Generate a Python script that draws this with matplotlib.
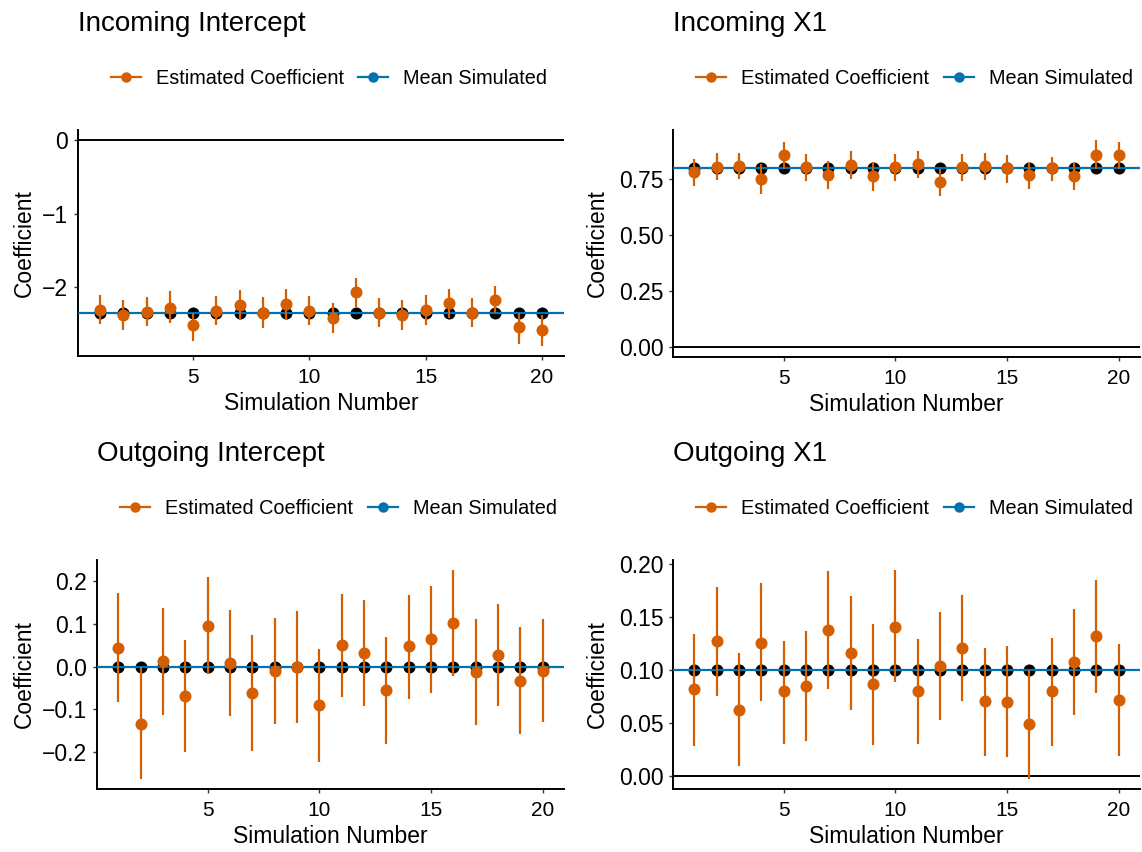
import matplotlib
matplotlib.use("Agg")
import matplotlib.pyplot as plt
from matplotlib.lines import Line2D
import numpy as np

plt.rcParams['font.family'] = ['Liberation Sans', 'DejaVu Sans']

ORANGE = '#D55E00'
BLUE = '#0072B2'

sims = np.arange(1, 21)

# Incoming Intercept
in_int_est = [-2.31, -2.38, -2.34, -2.28, -2.52, -2.32, -2.24, -2.35, -2.23, -2.32,
              -2.42, -2.07, -2.35, -2.38, -2.31, -2.22, -2.35, -2.18, -2.55, -2.58]
in_int_hi = [-2.11, -2.18, -2.14, -2.06, -2.35, -2.12, -2.04, -2.14, -2.03, -2.12,
             -2.22, -1.88, -2.15, -2.18, -2.11, -2.03, -2.15, -1.98, -2.36, -2.38]
in_int_lo = [-2.51, -2.59, -2.53, -2.49, -2.73, -2.52, -2.45, -2.56, -2.45, -2.52,
             -2.62, -2.27, -2.54, -2.59, -2.52, -2.42, -2.54, -2.35, -2.77, -2.80]
in_int_mean = -2.35

# Incoming X1
in_x1_est = [0.780, 0.804, 0.807, 0.751, 0.855, 0.802, 0.766, 0.811, 0.762, 0.802,
             0.817, 0.735, 0.802, 0.807, 0.800, 0.766, 0.800, 0.762, 0.855, 0.855]
in_x1_hi = [0.837, 0.864, 0.864, 0.814, 0.915, 0.859, 0.829, 0.874, 0.825, 0.859,
            0.874, 0.795, 0.859, 0.867, 0.856, 0.825, 0.847, 0.822, 0.922, 0.916]
in_x1_lo = [0.717, 0.744, 0.747, 0.684, 0.795, 0.739, 0.705, 0.747, 0.697, 0.739,
            0.754, 0.675, 0.742, 0.744, 0.732, 0.706, 0.739, 0.699, 0.795, 0.795]
in_x1_mean = 0.80

# Outgoing Intercept
out_int_est = [0.044, -0.135, 0.014, -0.068, 0.095, 0.008, -0.061, -0.010, 0.000, -0.091,
               0.050, 0.032, -0.056, 0.048, 0.066, 0.103, -0.012, 0.028, -0.033, -0.010]
out_int_hi = [0.172, 0.000, 0.138, 0.063, 0.210, 0.132, 0.075, 0.115, 0.131, 0.041,
              0.170, 0.156, 0.070, 0.168, 0.190, 0.226, 0.113, 0.148, 0.093, 0.111]
out_int_lo = [-0.083, -0.263, -0.113, -0.200, -0.018, -0.117, -0.198, -0.135, -0.132, -0.224,
              -0.071, -0.093, -0.181, -0.075, -0.061, -0.021, -0.137, -0.093, -0.158, -0.131]
out_int_mean = 0.0

# Outgoing X1
out_x1_est = [0.082, 0.128, 0.063, 0.126, 0.080, 0.085, 0.138, 0.116, 0.087, 0.141,
              0.080, 0.104, 0.121, 0.071, 0.070, 0.049, 0.080, 0.108, 0.132, 0.072]
out_x1_hi = [0.134, 0.178, 0.116, 0.182, 0.128, 0.137, 0.193, 0.170, 0.144, 0.194,
             0.129, 0.155, 0.171, 0.121, 0.123, 0.100, 0.130, 0.158, 0.185, 0.125]
out_x1_lo = [0.029, 0.076, 0.010, 0.071, 0.031, 0.033, 0.082, 0.063, 0.030, 0.089,
             0.031, 0.053, 0.071, 0.019, 0.018, -0.002, 0.029, 0.058, 0.079, 0.019]
out_x1_mean = 0.10

W, H = 1142, 852


def px_axes(fig, left, top, right, bottom):
    return fig.add_axes([left / W, 1 - bottom / H, (right - left) / W, (bottom - top) / H])


def panel(ax, est, lo, hi, mean, yticks, fmt):
    ax.axhline(0, color='black', lw=1.4, zorder=1)
    ax.scatter(sims, np.full(len(sims), mean), s=75, color='black', zorder=2, linewidths=0)
    ax.axhline(mean, color=BLUE, lw=1.6, zorder=3)
    ax.vlines(sims, lo, hi, color=ORANGE, lw=1.6, zorder=4)
    ax.scatter(sims, est, s=75, color=ORANGE, zorder=5, linewidths=0)

    ymin = min(min(lo), 0, mean)
    ymax = max(max(hi), 0, mean)
    pad = (ymax - ymin) * 0.05
    ax.set_ylim(ymin - pad, ymax + pad)
    ax.set_xlim(0.05, 20.95)
    ax.set_xticks([5, 10, 15, 20])
    ax.set_yticks(yticks)
    ax.set_yticklabels([fmt.format(v).replace('-', '\u2212') for v in yticks])

    for s in ['top', 'right']:
        ax.spines[s].set_visible(False)
    for s in ['left', 'bottom']:
        ax.spines[s].set_linewidth(1.4)
    ax.tick_params(length=3, width=1, color='#333333', pad=4)
    ax.tick_params(axis='x', labelsize=15, pad=5.5)
    ax.tick_params(axis='y', labelsize=16.5)
    ax.set_xlabel('Simulation Number', fontsize=16.5, labelpad=3.5)
    ax.set_ylabel('Coefficient', fontsize=16.5)


fig = plt.figure(figsize=(W / 100, H / 100), dpi=100)

panels = [
    ((78, 130, 564, 356), 'Incoming Intercept', in_int_est, in_int_lo, in_int_hi, in_int_mean,
     [-2, -1, 0], '{:.0f}'),
    ((673, 130, 1140, 357), 'Incoming X1', in_x1_est, in_x1_lo, in_x1_hi, in_x1_mean,
     [0, 0.25, 0.5, 0.75], '{:.2f}'),
    ((97, 560, 564, 789), 'Outgoing Intercept', out_int_est, out_int_lo, out_int_hi, out_int_mean,
     [-0.2, -0.1, 0, 0.1, 0.2], '{:.1f}'),
    ((673, 560, 1140, 789), 'Outgoing X1', out_x1_est, out_x1_lo, out_x1_hi, out_x1_mean,
     [0, 0.05, 0.1, 0.15, 0.2], '{:.2f}'),
]

handles = [Line2D([], [], color=ORANGE, marker='o', markersize=6.5, lw=1.6),
           Line2D([], [], color=BLUE, marker='o', markersize=6.5, lw=1.6)]

for box, title, est, lo, hi, mean, yt, fmt in panels:
    left, top, right, bottom = box
    ax = px_axes(fig, left, top, right, bottom)
    panel(ax, est, lo, hi, mean, yt, fmt)
    hgt = bottom - top
    wid = right - left
    ax.text(0, 1 + 106 / hgt, title, transform=ax.transAxes, fontsize=20,
            ha='left', va='center')
    ax.legend(handles, ['Estimated Coefficient', 'Mean Simulated'], loc='center',
              bbox_to_anchor=(0.5 + 8 / wid, 1 + 52 / hgt), ncol=2, frameon=False,
              fontsize=14.3, handlelength=1.5, columnspacing=0.75, handletextpad=0.75)
    # y labels line up across the column, as in the reference
    xlab = 36 if left < 300 else 609
    ax.yaxis.set_label_coords((xlab - left) / wid, 0.5)

fig.savefig('out.png', dpi=100)
